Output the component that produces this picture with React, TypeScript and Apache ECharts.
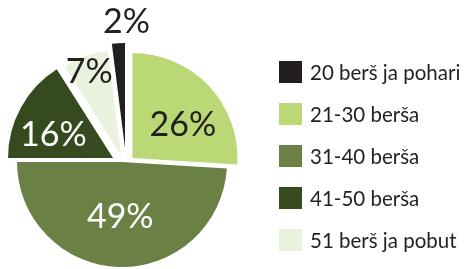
import React, { useEffect, useRef } from "react";
import * as echarts from "echarts";

const categories = ["20 berš ja pohari", "21-30 berša", "31-40 berša", "41-50 berša", "51 berš ja pobut"];
const shares = [2, 26, 49, 16, 7];
const sliceColors = ["#231f20", "#bbd876", "#6a8044", "#354a1f", "#e8f2dc"];
const labelColors = ["#231f20", "#231f20", "#ffffff", "#ffffff", "#231f20"];

// exploded slice centres (px) and label nudges
const sliceCenters: [number, number][] = [
  [125, 148],
  [132.5, 158],
  [122, 162],
  [113, 158],
  [121, 155],
];
const labelNudges: [number, number][] = [
  [5, -73],
  [10, 2],
  [0, -3],
  [-11, 1],
  [-13, -33],
];

const FONT = "Lato";

export default function App() {
  const ref = useRef<HTMLDivElement>(null);
  useEffect(() => {
    if (!ref.current) return;
    const chart = echarts.init(ref.current, undefined, { renderer: "svg" });
    const total = shares.reduce((a, b) => a + b, 0);
    const startAngle = 90 + (shares[0] / total) * 360;
    const series = shares.map((v, i) => {
      const before = shares.slice(0, i).reduce((a, b) => a + b, 0);
      const after = shares.slice(i + 1).reduce((a, b) => a + b, 0);
      const data: any[] = [];
      if (before > 0)
        data.push({ value: before, name: "_pre" + i, itemStyle: { color: "rgba(0,0,0,0)" }, label: { show: false } });
      data.push({
        value: v,
        name: categories[i],
        itemStyle: { color: sliceColors[i] },
        label: {
          show: true,
          position: "inside",
          formatter: (p: any) => p.value + "%",
          color: labelColors[i],
          fontSize: 34,
          lineHeight: 34,
          fontFamily: FONT,
          fontWeight: 400,
        },
      });
      if (after > 0)
        data.push({ value: after, name: "_post" + i, itemStyle: { color: "rgba(0,0,0,0)" }, label: { show: false } });
      return {
        type: "pie",
        center: sliceCenters[i],
        radius: [0, 105],
        startAngle,
        clockwise: true,
        silent: true,
        avoidLabelOverlap: false,
        labelLine: { show: false },
        labelLayout: { dx: labelNudges[i][0], dy: labelNudges[i][1] },
        emphasis: { disabled: true },
        data,
      };
    });
    chart.setOption({
      animation: false,
      legend: {
        data: categories,
        orient: "vertical",
        left: 279,
        top: 61,
        padding: 0,
        itemWidth: 23,
        itemHeight: 22,
        itemGap: 20,
        icon: "rect",
        selectedMode: false,
        textStyle: { fontSize: 20.5, lineHeight: 22, fontFamily: FONT, color: "#231f20", padding: [0, 0, 0, 3] },
      },
      series,
    });
    return () => chart.dispose();
  }, []);
  return <div ref={ref} style={{ position: "fixed", left: 0, top: 0, width: 470, height: 269 }} />;
}
